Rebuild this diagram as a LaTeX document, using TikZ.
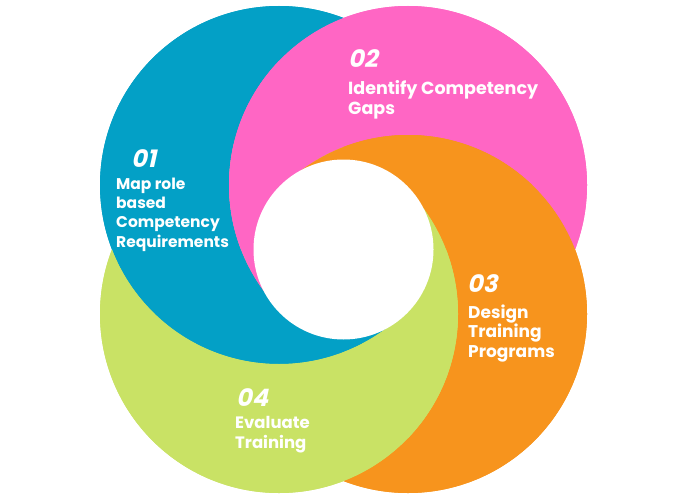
\documentclass[tikz,border=0pt]{standalone}
\usepackage{fontspec}
\setmainfont{Poppins}
\newfontfamily\numfont{Poppins}[FakeSlant=0.22]
\definecolor{cblue}{HTML}{03A0C6}
\definecolor{cpink}{HTML}{FF66C4}
\definecolor{corange}{HTML}{F7941D}
\definecolor{cgreen}{HTML}{C9E265}
\begin{document}
\begin{tikzpicture}[x=1pt,y=-1pt,
  numtxt/.style={anchor=base west,inner sep=0pt,text=white,font=\numfont\bfseries\fontsize{24}{24}\selectfont},
  bodytxt/.style={anchor=base west,inner sep=0pt,text=white,align=left}]
\useasboundingbox (0,0) rectangle (700,500);
\fill[white] (0,0) rectangle (700,500);
\def\R{179}
\coordinate (C) at (343.5,249.5);
\coordinate (B) at (279,185);
\coordinate (P) at (408,185);
\coordinate (O) at (408,314);
\coordinate (G) at (279,314);
% base layer
\fill[cblue] (B) circle (\R);
\fill[cpink] (P) circle (\R);
\fill[corange] (O) circle (\R);
\fill[cgreen] (G) circle (\R);
% blue on top: outside pink, or below the pinch line
\begin{scope}
\clip (B) circle (\R);
\fill[cblue,even odd rule] (-10,-10) rectangle (710,510) (P) circle (\R);
\fill[cblue] (-10,314) rectangle (710,510);
\end{scope}
% pink on top: outside orange, or left of the pinch line
\begin{scope}
\clip (P) circle (\R);
\fill[cpink,even odd rule] (-10,-10) rectangle (710,510) (O) circle (\R);
\fill[cpink] (-10,-10) rectangle (279,510);
\end{scope}
% orange on top: outside green, or above the pinch line
\begin{scope}
\clip (O) circle (\R);
\fill[corange,even odd rule] (-10,-10) rectangle (710,510) (G) circle (\R);
\fill[corange] (-10,-10) rectangle (710,185);
\end{scope}
% green on top: outside blue, or right of the pinch line
\begin{scope}
\clip (G) circle (\R);
\fill[cgreen,even odd rule] (-10,-10) rectangle (710,510) (B) circle (\R);
\fill[cgreen] (408,-10) rectangle (710,510);
\end{scope}
% central hole
\fill[white] (C) circle (90);
% texts
\node[numtxt] (n1) at (131,167) {01};
\node[bodytxt,font=\bfseries\fontsize{15.5}{19.2}\selectfont] (t1) at (116,247) {Map role\\based\\Competency\\Requirements};
\node[numtxt] (n2) at (348,68) {02};
\node[bodytxt,font=\bfseries\fontsize{17.5}{20}\selectfont] (t2) at (348,114) {Identify Competency\\Gaps};
\node[numtxt] (n3) at (467,292) {03};
\node[bodytxt,font=\bfseries\fontsize{17}{19.5}\selectfont] (t3) at (468,357) {Design\\Training\\Programs};
\node[numtxt] (n4) at (236,406) {04};
\node[bodytxt,font=\bfseries\fontsize{16.5}{20}\selectfont] (t4) at (235,448) {Evaluate\\Training};
\end{tikzpicture}
\end{document}
